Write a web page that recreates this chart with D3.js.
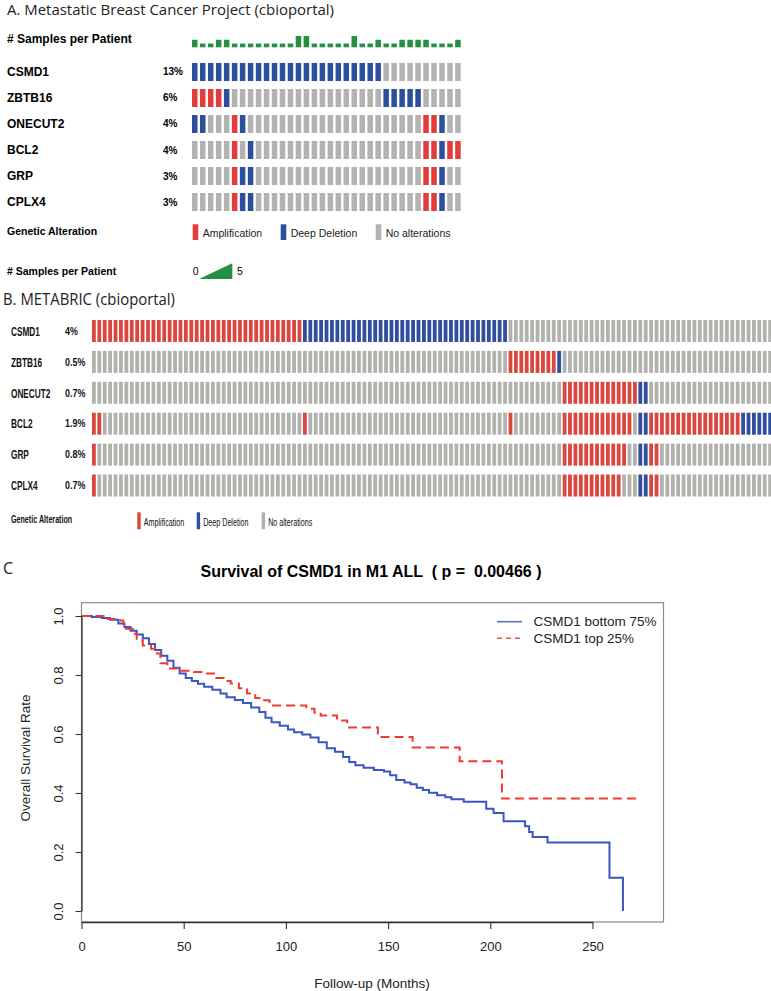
<!DOCTYPE html>
<html><head><meta charset="utf-8">
<script src="https://cdn.jsdelivr.net/npm/d3@7"></script>
<style>body{margin:0;background:#fff}svg{display:block}</style>
</head><body>
<svg id="fig" width="771" height="991"></svg>
<script>
// ---------------- DATA ----------------
const genes = ["CSMD1","ZBTB16","ONECUT2","BCL2","GRP","CPLX4"];
const pctMBC = ["13%","6%","4%","4%","3%","3%"];
const pctMETABRIC = ["4%","0.5%","0.7%","1.9%","0.8%","0.7%"];
const samplesPerPatient = [2,1,1,2,2,1,1,1,1,1,1,1,1,3,3,1,1,1,1,1,3,1,1,2,1,1,2,2,2,2,1,1,1,2];
const samplesScale = [0,5];
// alteration runs: A = Amplification, D = Deep Deletion, N = No alterations
const mbcCSMD1   = [["D",24],["N",10]];
const mbcZBTB16  = [["A",4],["D",1],["N",19],["D",5],["N",5]];
const mbcONECUT2 = [["D",2],["N",3],["A",1],["D",1],["N",22],["A",2],["D",1],["N",2]];
const mbcBCL2    = [["N",5],["A",1],["N",1],["D",1],["N",21],["A",2],["D",1],["A",2]];
const mbcGRP     = [["N",5],["A",1],["D",2],["N",21],["A",2],["D",1],["N",2]];
const mbcCPLX4   = [["N",5],["A",1],["D",2],["N",21],["A",2],["D",1],["N",2]];
const metCSMD1   = [["A",39],["D",38],["N",49]];
const metZBTB16  = [["N",77],["A",9],["D",1],["N",39]];
const metONECUT2 = [["N",87],["A",14],["D",2],["N",23]];
const metBCL2    = [["A",2],["N",37],["A",1],["N",37],["A",1],["N",9],["A",13],["N",1],["D",2],["A",17],["D",6]];
const metGRP     = [["A",1],["N",86],["A",12],["N",2],["D",2],["A",2],["N",21]];
const metCPLX4   = [["A",1],["N",86],["A",11],["N",3],["D",2],["A",2],["N",21]];
const legendLabels = ["Amplification","Deep Deletion","No alterations"];
// survival curves
const blueTime = [0,5,10,14,18,21,24,27,30,33,36,39,42,45,48,51,54,57,60,64,68,71,75,79,83,87,90,93,97,101,104,108,112,116,120,124,128,131,134,138,143,148,151,154,158,161,164,167,170,174,178,181,187,198,201.6,206.5,217,219,220.7,228,258.3,264.9];
const blueSurv = [1,0.997,0.993,0.987,0.975,0.963,0.95,0.937,0.925,0.905,0.885,0.865,0.848,0.825,0.805,0.79,0.78,0.77,0.76,0.75,0.737,0.725,0.715,0.705,0.69,0.675,0.655,0.64,0.628,0.615,0.606,0.598,0.588,0.572,0.552,0.54,0.522,0.505,0.494,0.486,0.478,0.473,0.46,0.444,0.436,0.43,0.418,0.41,0.401,0.392,0.386,0.379,0.37,0.347,0.332,0.304,0.287,0.268,0.251,0.232,0.113,0];
const redTime = [0,12,19,20.5,25,27,30,34,37,38.6,42,47,55,60,66,70,73,77,81,85,88,92,110,114,117,125,130,145,162,185,205.7,272];
const redSurv = [1,0.99,0.985,0.957,0.94,0.918,0.9,0.889,0.873,0.84,0.822,0.814,0.81,0.805,0.79,0.78,0.771,0.755,0.737,0.722,0.714,0.697,0.686,0.672,0.663,0.646,0.622,0.59,0.554,0.508,0.381,0.381];
const xTicks = [0,50,100,150,200,250];
const yTicks = [0,0.2,0.4,0.6,0.8,1.0];
const seriesNames = ["CSMD1 bottom 75%","CSMD1 top 25%"];

// ---------------- HELPERS ----------------
const svg = d3.select("#fig");
const SANS = "'Liberation Sans', Arial, Helvetica, sans-serif";
const MYR = "'Open Sans', 'Liberation Sans', sans-serif";
function expand(runs){const o=[];runs.forEach(([c,n])=>{for(let i=0;i<n;i++)o.push(c);});return o;}
// horizontally condensed text via a scale transform (keeps real text)
function condText(g, x, y, r, txt, size, bold){
  return g.append("text").attr("transform",`translate(${x},${y}) scale(${r},1)`)
    .attr("dominant-baseline","central").attr("font-family",SANS)
    .attr("font-weight",bold?"bold":"normal").attr("font-size",size).attr("fill","#111").text(txt);
}
function fitW(sel, w){sel.attr("textLength",w).attr("lengthAdjust","spacingAndGlyphs");}

// ---------------- PANEL A ----------------
const colA = {A:"#e33c3a", D:"#2c4f9d", N:"#b3b3b1"};
const rowsA = [mbcCSMD1,mbcZBTB16,mbcONECUT2,mbcBCL2,mbcGRP,mbcCPLX4].map(expand);
const gA = svg.append("g");
fitW(gA.append("text").attr("x",7).attr("y",15).attr("font-family",MYR).attr("font-size",14)
  .attr("fill","#222").text("A. Metastatic Breast Cancer Project (cbioportal)"), 327);

const xA = d3.scaleBand().domain(d3.range(samplesPerPatient.length)).range([192,460.7]).paddingInner(0.31).paddingOuter(0);
const yA = d3.scaleBand().domain(genes).range([63,211]).paddingInner(0.3077).paddingOuter(0);
const hS = d3.scaleLinear().domain(samplesScale).range([0,18.8]);
const baseS = 47.3;

gA.append("text").attr("x",7).attr("y",38.5).attr("dominant-baseline","central")
  .attr("font-family",SANS).attr("font-weight","bold").attr("font-size",12).text("# Samples per Patient");
gA.selectAll("rect.spp").data(samplesPerPatient).join("rect").attr("class","spp")
  .attr("x",(d,i)=>xA(i)).attr("width",xA.bandwidth())
  .attr("y",d=>baseS-hS(d)).attr("height",d=>hS(d)).attr("fill","#239043");

genes.forEach((g,gi)=>{
  gA.append("text").attr("x",7).attr("y",yA(g)+yA.bandwidth()/2).attr("dominant-baseline","central")
    .attr("font-family",SANS).attr("font-weight","bold").attr("font-size",12).text(g);
  gA.append("text").attr("x",163).attr("y",yA(g)+yA.bandwidth()/2).attr("dominant-baseline","central")
    .attr("font-family",SANS).attr("font-weight","bold").attr("font-size",10).text(pctMBC[gi]);
  gA.selectAll(null).data(rowsA[gi]).join("rect")
    .attr("x",(d,i)=>xA(i)).attr("width",xA.bandwidth())
    .attr("y",yA(g)).attr("height",yA.bandwidth()).attr("fill",d=>colA[d]);
});
gA.append("text").attr("x",7).attr("y",231).attr("dominant-baseline","central")
  .attr("font-family",SANS).attr("font-weight","bold").attr("font-size",10.5).text("Genetic Alteration");
const legXA = [192.7,280.7,375.7];
["A","D","N"].forEach((k,i)=>{
  gA.append("rect").attr("x",legXA[i]).attr("y",224.3).attr("width",5.6).attr("height",15.7).attr("fill",colA[k]);
  gA.append("text").attr("x",legXA[i]+10).attr("y",232.5).attr("dominant-baseline","central")
    .attr("font-family",SANS).attr("font-size",10.5).attr("fill","#222").text(legendLabels[i]);
});
gA.append("text").attr("x",7).attr("y",270.5).attr("dominant-baseline","central")
  .attr("font-family",SANS).attr("font-weight","bold").attr("font-size",10.5).text("# Samples per Patient");
gA.append("text").attr("x",192.7).attr("y",270.5).attr("dominant-baseline","central")
  .attr("font-family",SANS).attr("font-size",10.5).text(samplesScale[0]);
gA.append("path").attr("d","M199,279L232.3,279L232.3,263.3Z").attr("fill","#239043");
gA.append("text").attr("x",237).attr("y",270.5).attr("dominant-baseline","central")
  .attr("font-family",SANS).attr("font-size",10.5).text(samplesScale[1]);

// ---------------- PANEL B ----------------
const colB = {A:"#d9473f", D:"#2f4f9c", N:"#b1b1ae"};
const rowsB = [metCSMD1,metZBTB16,metONECUT2,metBCL2,metGRP,metCPLX4].map(expand);
const gB = svg.append("g");
fitW(gB.append("text").attr("x",3).attr("y",305).attr("font-family",MYR).attr("font-size",16.5)
  .attr("fill","#222").text("B. METABRIC (cbioportal)"), 172);
const xB = d3.scaleBand().domain(d3.range(rowsB[0].length)).range([92,772.05]).paddingInner(0.2976).paddingOuter(0);
const yB = d3.scaleBand().domain(genes).range([320,496.5]).paddingInner(0.288).paddingOuter(0);
genes.forEach((g,gi)=>{
  const cy = yB(g)+yB.bandwidth()/2;
  condText(gB, 11, cy, 0.66, g, 12.5, true);
  condText(gB, 65, cy, 0.85, pctMETABRIC[gi], 10.5, true);
  gB.selectAll(null).data(rowsB[gi]).join("rect")
    .attr("x",(d,i)=>xB(i)).attr("width",xB.bandwidth())
    .attr("y",yB(g)).attr("height",yB.bandwidth()).attr("fill",d=>colB[d]);
});
condText(gB, 11, 519, 0.68, "Genetic Alteration", 10.5, true);
const legXB = [137.3,196.7,261.7];
["A","D","N"].forEach((k,i)=>{
  gB.append("rect").attr("x",legXB[i]).attr("y",512.3).attr("width",3.4).attr("height",17).attr("fill",colB[k]);
  condText(gB, legXB[i]+6.5, 522, 0.68, legendLabels[i], 10.5, false);
});

// ---------------- PANEL C ----------------
const gC = svg.append("g");
gC.append("text").attr("x",3).attr("y",574).attr("font-family",MYR).attr("font-size",16).attr("fill","#222").text("C");
gC.append("text").attr("x",371).attr("y",577).attr("text-anchor","middle").style("white-space","pre")
  .attr("font-family",SANS).attr("font-weight","bold").attr("font-size",16)
  .text("Survival of CSMD1 in M1 ALL  ( p =  0.00466 )");
const xC = d3.scaleLinear().domain([0,250]).range([81.5,592.5]);
const yC = d3.scaleLinear().domain([0,1]).range([911,616]);
const boxL = xC(0), boxR = 663.5, boxT = 602.7, boxB = 922;
gC.append("rect").attr("x",boxL).attr("y",boxT).attr("width",boxR-boxL).attr("height",boxB-boxT)
  .attr("fill","none").attr("stroke","#8a8a8a").attr("stroke-width",1.2);

const line = d3.line().x(d=>xC(d[0])).y(d=>yC(d[1])).curve(d3.curveStepAfter);
gC.append("path").datum(blueTime.map((t,i)=>[t,blueSurv[i]])).attr("d",line)
  .attr("fill","none").attr("stroke","#3a56c3").attr("stroke-width",2);
gC.append("path").datum(redTime.map((t,i)=>[t,redSurv[i]])).attr("d",line)
  .attr("fill","none").attr("stroke","#f03a2e").attr("stroke-width",2).attr("stroke-dasharray","9,5");

const axY = gC.append("g").attr("transform",`translate(${boxL},0)`)
  .call(d3.axisLeft(yC).tickValues(yTicks).tickFormat(d3.format(".1f")).tickSize(6).tickSizeOuter(0));
axY.select(".domain").attr("stroke","#333").attr("stroke-width",1.3);
axY.selectAll(".tick line").attr("stroke","#333").attr("stroke-width",1.1);
axY.selectAll(".tick text").attr("transform","rotate(-90)").attr("x",0).attr("y",-23.5).attr("dy",null)
  .attr("text-anchor","middle").attr("dominant-baseline","central")
  .attr("font-family",SANS).attr("font-size",13).attr("fill","#222");
const axX = gC.append("g").attr("transform",`translate(0,${boxB})`)
  .call(d3.axisBottom(xC).tickValues(xTicks).tickFormat(d3.format("d")).tickSize(7).tickSizeOuter(0));
axX.select(".domain").attr("stroke","#333").attr("stroke-width",1.3);
axX.selectAll(".tick line").attr("stroke","#333").attr("stroke-width",1.1);
axX.selectAll(".tick text").attr("y",20).attr("font-family",SANS).attr("font-size",13).attr("fill","#222");

gC.append("text").attr("x",372).attr("y",983).attr("text-anchor","middle").attr("dominant-baseline","central")
  .attr("font-family",SANS).attr("font-size",13.5).attr("fill","#222").text("Follow-up (Months)");
gC.append("text").attr("transform","translate(25,758) rotate(-90)").attr("text-anchor","middle")
  .attr("dominant-baseline","central").attr("font-family",SANS).attr("font-size",13.5).attr("fill","#222")
  .text("Overall Survival Rate");

// legend
gC.append("line").attr("x1",497).attr("x2",522).attr("y1",621.7).attr("y2",621.7)
  .attr("stroke","#3a56c3").attr("stroke-width",1.6).attr("opacity",0.85);
gC.append("line").attr("x1",497).attr("x2",522).attr("y1",638.3).attr("y2",638.3)
  .attr("stroke","#f03a2e").attr("stroke-width",1.6).attr("stroke-dasharray","5,4").attr("opacity",0.85);
seriesNames.forEach((s,i)=>{
  gC.append("text").attr("x",533.4).attr("y",i?638.3:621.7).attr("dominant-baseline","central")
    .attr("font-family",SANS).attr("font-size",13.5).attr("fill","#222").text(s);
});
</script>
</body></html>
